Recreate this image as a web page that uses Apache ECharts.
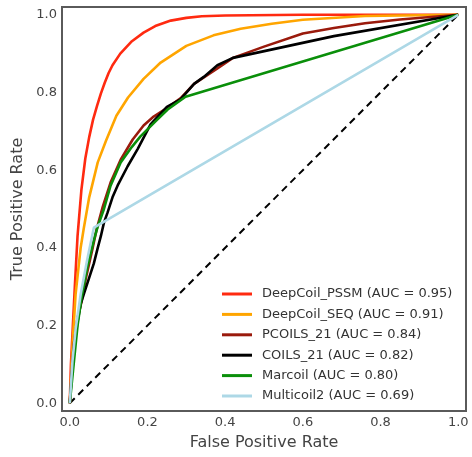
<!DOCTYPE html>
<html>
<head>
<meta charset="utf-8">
<script src="https://cdn.jsdelivr.net/npm/echarts@6/dist/echarts.min.js"></script>
<style>html,body{margin:0;padding:0;background:#fff}#c{width:472px;height:457px}</style>
</head>
<body>
<div id="c"></div>
<script>
const seriesNames = ['DeepCoil_PSSM (AUC = 0.95)','DeepCoil_SEQ (AUC = 0.91)','PCOILS_21 (AUC = 0.84)','COILS_21 (AUC = 0.82)','Marcoil (AUC = 0.80)','Multicoil2 (AUC = 0.69)'];
const seriesColors = ['#ff2a10','#ffa500','#9a1a0c','#000000','#0a8f0a','#add8e6'];
const tickValues = [0,0.2,0.4,0.6,0.8,1.0];

const fprPSSM = [0,0.003,0.008,0.013,0.02,0.03,0.04,0.05,0.06,0.07,0.08,0.09,0.1,0.11,0.13,0.16,0.19,0.22,0.26,0.3,0.34,0.4,0.6,1];
const tprPSSM = [0,0.1,0.2,0.3,0.43,0.55,0.63,0.685,0.73,0.765,0.797,0.825,0.85,0.87,0.9,0.932,0.954,0.971,0.985,0.992,0.996,0.998,1.0,1];

const fprSEQ = [0,0.004,0.007,0.015,0.028,0.036,0.05,0.072,0.093,0.12,0.15,0.19,0.234,0.3,0.37,0.44,0.52,0.6,0.76,1];
const tprSEQ = [0,0.08,0.15,0.28,0.4,0.45,0.53,0.62,0.675,0.74,0.787,0.835,0.877,0.92,0.947,0.964,0.977,0.987,0.997,1];

const fprPCOILS = [0,0.005,0.01,0.02,0.03,0.041,0.05,0.059,0.069,0.085,0.105,0.131,0.162,0.19,0.216,0.25,0.285,0.32,0.38,0.42,0.5,0.6,0.68,0.76,0.85,1];
const tprPCOILS = [0,0.08,0.15,0.22,0.26,0.32,0.36,0.4,0.447,0.506,0.568,0.627,0.679,0.715,0.738,0.76,0.785,0.822,0.862,0.889,0.918,0.952,0.966,0.978,0.988,1];

const fprCOILS = [0,0.005,0.012,0.02,0.028,0.036,0.049,0.062,0.072,0.08,0.088,0.097,0.11,0.123,0.149,0.175,0.208,0.25,0.285,0.32,0.345,0.38,0.42,0.68,1];
const tprCOILS = [0,0.07,0.15,0.21,0.255,0.28,0.32,0.36,0.4,0.43,0.465,0.49,0.53,0.56,0.61,0.655,0.718,0.763,0.782,0.822,0.84,0.87,0.889,0.945,1];

const fprMarcoil = [0,0.01,0.02,0.03,0.045,0.062,0.072,0.088,0.105,0.131,0.16,0.182,0.22,0.252,0.298,1];
const tprMarcoil = [0,0.1,0.2,0.27,0.35,0.42,0.455,0.5,0.56,0.62,0.66,0.687,0.725,0.756,0.789,1];

const fprMulti = [0,0.007,0.015,0.028,0.045,0.062,1];
const tprMulti = [0,0.11,0.19,0.28,0.37,0.452,1];

const chanceX = [0,1];
const chanceY = [0,1];

const allX = [fprPSSM,fprSEQ,fprPCOILS,fprCOILS,fprMarcoil,fprMulti];
const allY = [tprPSSM,tprSEQ,tprPCOILS,tprCOILS,tprMarcoil,tprMulti];
const zip = (a,b) => a.map((v,i)=>[v,b[i]]);

const chart = echarts.init(document.getElementById('c'), null, {renderer:'canvas'});
const labelColor = '#444444';
const fontFam = 'DejaVu Sans';
const series = [{
  type:'line', name:'chance', data: zip(chanceX, chanceY), showSymbol:false, silent:true,
  lineStyle:{color:'#000', width:2, type:[7,5]}, z:1
}];
seriesNames.forEach((n,i)=>{
  series.push({type:'line', name:n, data: zip(allX[i], allY[i]), showSymbol:false, symbol:'none',
    lineStyle:{color:seriesColors[i], width:2.6}, itemStyle:{color:seriesColors[i]}, z:2+i});
});
chart.setOption({
  animation:false,
  backgroundColor:'#fff',
  grid:{left:62, right:6, top:7, bottom:46, outerBoundsMode:'none', containLabel:false, show:true, borderColor:'#5a5a5a', borderWidth:2, backgroundColor:'transparent'},
  xAxis:{type:'value', min:-0.02, max:1.02,
    name:'False Positive Rate', nameLocation:'middle', nameGap:24,
    nameTextStyle:{fontSize:16, color:labelColor, fontFamily:fontFam},
    axisLine:{show:false}, axisTick:{show:false}, splitLine:{show:false},
    axisLabel:{customValues:tickValues, formatter:v=>v.toFixed(1), fontSize:13, color:labelColor, fontFamily:fontFam, margin:5}},
  yAxis:{type:'value', min:-0.02, max:1.02,
    name:'True Positive Rate', nameLocation:'middle', nameGap:33,
    nameTextStyle:{fontSize:16, color:labelColor, fontFamily:fontFam},
    axisLine:{show:false}, axisTick:{show:false}, splitLine:{show:false},
    axisLabel:{customValues:tickValues, formatter:v=>v.toFixed(1), fontSize:13, color:labelColor, fontFamily:fontFam, margin:5}},
  legend:{data:seriesNames, orient:'vertical', left:217, top:281, icon:'rect', itemWidth:30, itemHeight:3,
    itemGap:4.4, textStyle:{fontSize:13, lineHeight:16, color:'#333', fontFamily:fontFam, padding:[0,0,0,5]}},
  series: series
});
</script>
</body>
</html>
